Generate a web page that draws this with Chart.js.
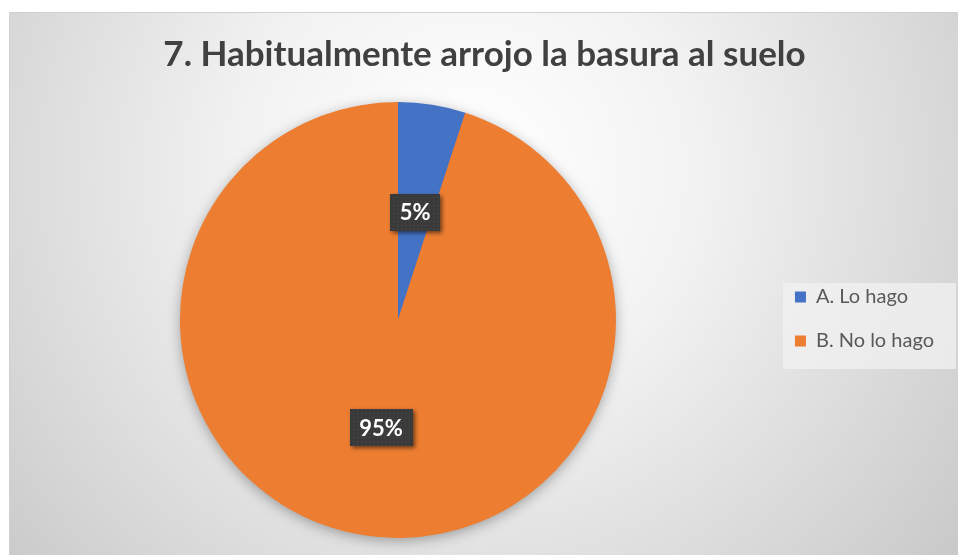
<!DOCTYPE html>
<html>
<head>
<meta charset="utf-8">
<title>7. Habitualmente arrojo la basura al suelo</title>
<script src="https://cdn.jsdelivr.net/npm/chart.js@4.4.1/dist/chart.umd.min.js"></script>
<style>
  html, body { margin: 0; padding: 0; background: #fff; }
  #chart { display: block; }
</style>
</head>
<body>
<canvas id="chart" width="958" height="555"></canvas>
<script>
// Chart data
const chartTitle = "7. Habitualmente arrojo la basura al suelo";
const categories = ["A. Lo hago", "B. No lo hago"];
const values = [5, 95];
const sliceColors = ["#4472C4", "#ED7D31"];

// Frame + gradient background
const backgroundPlugin = {
  id: "bgFrame",
  beforeDraw(chart) {
    const ctx = chart.ctx;
    const w = chart.width, h = chart.height;
    ctx.save();
    ctx.fillStyle = "#ffffff";
    ctx.fillRect(0, 0, w, h);
    let grad = ctx.createRadialGradient(470, 170, 20, 470, 170, 620);
    grad.addColorStop(0, "#ffffff");
    grad.addColorStop(0.35, "#f2f2f2");
    grad.addColorStop(1, "#c9c9c9");
    ctx.fillStyle = grad;
    ctx.fillRect(9, 12, w - 9, h - 12);
    ctx.strokeStyle = "#d0d0d0";
    ctx.lineWidth = 1;
    ctx.beginPath();
    ctx.moveTo(9.5, h);
    ctx.lineTo(9.5, 12.5);
    ctx.lineTo(w, 12.5);
    ctx.stroke();

    // legend background box
    const boxes = chart.legend && chart.legend.legendHitBoxes;
    if (boxes && boxes.length) {
      let l = Math.min(...boxes.map(b => b.left));
      let r = Math.max(...boxes.map(b => b.left + b.width));
      let t = Math.min(...boxes.map(b => b.top));
      let bt = Math.max(...boxes.map(b => b.top + b.height));
      ctx.fillStyle = "rgba(242,242,242,0.75)";
      ctx.fillRect(l - 12, t - 4, r - l + 34, bt - t + 22);
    }
    ctx.restore();
  }
};

// soft shadow behind the pie
const pieShadowPlugin = {
  id: "pieShadow",
  beforeDatasetsDraw(chart) {
    const arc = chart.getDatasetMeta(0).data[0];
    if (!arc) return;
    const ctx = chart.ctx;
    ctx.save();
    ctx.shadowColor = "rgba(0,0,0,0.35)";
    ctx.shadowBlur = 14;
    ctx.shadowOffsetY = 3;
    ctx.fillStyle = sliceColors[1];
    ctx.beginPath();
    ctx.arc(arc.x, arc.y, arc.outerRadius - 1, 0, Math.PI * 2);
    ctx.fill();
    ctx.restore();
  }
};

// dark dotted label boxes
function makeDotPattern(ctx) {
  const c = document.createElement("canvas");
  c.width = 4; c.height = 4;
  const p = c.getContext("2d");
  p.fillStyle = "#3a3a3a";
  p.fillRect(0, 0, 4, 4);
  p.fillStyle = "#4d4d4d";
  p.fillRect(1, 1, 1, 1);
  return ctx.createPattern(c, "repeat");
}

const labelPlugin = {
  id: "sliceLabels",
  afterDatasetsDraw(chart) {
    const ctx = chart.ctx;
    const meta = chart.getDatasetMeta(0);
    const total = values.reduce((a, b) => a + b, 0);
    const pattern = makeDotPattern(ctx);
    ctx.save();
    ctx.font = "bold 22px Lato";
    ctx.textAlign = "center";
    ctx.textBaseline = "middle";
    meta.data.forEach((arc, i) => {
      const pos = arc.tooltipPosition();
      const txt = Math.round(values[i] / total * 100) + "%";
      const tw = ctx.measureText(txt).width;
      const bw = tw + 19, bh = 37;
      ctx.save();
      ctx.shadowColor = "rgba(0,0,0,0.55)";
      ctx.shadowBlur = 4;
      ctx.shadowOffsetX = 2;
      ctx.shadowOffsetY = 2;
      ctx.fillStyle = pattern;
      ctx.fillRect(Math.round(pos.x - bw / 2), Math.round(pos.y - bh / 2), Math.round(bw), bh);
      ctx.restore();
      ctx.fillStyle = "#ffffff";
      ctx.fillText(txt, pos.x, pos.y + 1);
    });
    ctx.restore();
  }
};

new Chart(document.getElementById("chart"), {
  type: "pie",
  data: {
    labels: categories,
    datasets: [{
      data: values,
      backgroundColor: sliceColors,
      borderWidth: 0
    }]
  },
  options: {
    responsive: false,
    animation: false,
    layout: { padding: { left: 25, right: 14, top: 0, bottom: 17 } },
    plugins: {
      title: {
        display: true,
        text: chartTitle,
        color: "#404040",
        font: { family: "Lato", size: 35, weight: "bold" },
        padding: { top: 34, bottom: 26 }
      },
      legend: {
        position: "right",
        // empty title only pushes the items down to the pie's middle
        title: { display: true, text: " ", font: { size: 10 }, padding: 44 },
        labels: {
          boxWidth: 11,
          boxHeight: 11,
          padding: 24,
          color: "#595959",
          font: { family: "Lato", size: 20 }
        }
      },
      tooltip: { enabled: false }
    }
  },
  plugins: [backgroundPlugin, pieShadowPlugin, labelPlugin]
});
</script>
</body>
</html>
